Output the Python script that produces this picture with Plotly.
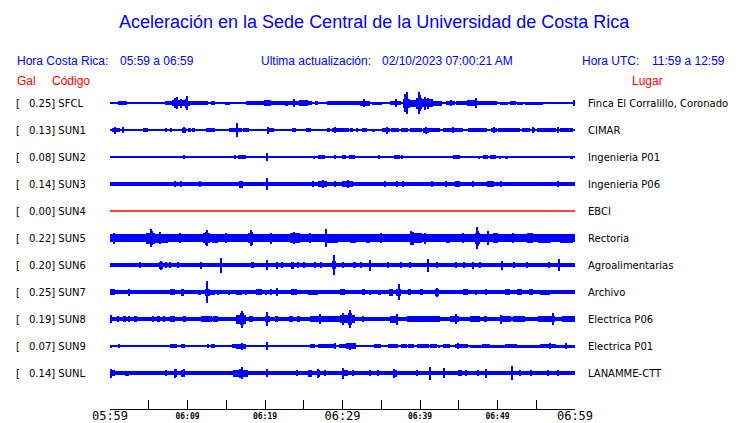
import plotly.graph_objects as go

# ---------------- data ----------------
STATIONS = ["SFCL", "SUN1", "SUN2", "SUN3", "SUN4", "SUN5", "SUN6", "SUN7", "SUN8", "SUN9", "SUNL"]
PEAK_GAL = ["0.25", "0.13", "0.08", "0.14", "0.00", "0.22", "0.20", "0.25", "0.19", "0.07", "0.14"]
PLACES = ["Finca El Corralillo, Coronado", "CIMAR", "Ingenieria P01", "Ingenieria P06", "EBCI",
          "Rectoria", "Agroalimentarias", "Archivo", "Electrica P06", "Electrica P01", "LANAMME-CTT"]

# tick labels (minutes after 05:59 local)
MAJOR_TICKS = [0, 30, 60]
MAJOR_LABELS = ["05:59", "06:29", "06:59"]
MINOR_TICKS = [10, 20, 40, 50]
MINOR_LABELS = ["06:09", "06:19", "06:39", "06:49"]

# background noise half-amplitude of each trace (relative units, 27 = one row)
NOISE = [0.6, 0.6, 0.6, 2.0, 0.0, 3.6, 2.0, 2.0, 2.3, 0.8, 2.2]

# bursts: (start minute, end minute, half amplitude); start == end -> single spike
EV_SFCL = [(1.0, 2.2, 1.7), (2.7, 4.3, 1.3), (4.5, 5.5, 1.3), (5.9, 6.1, 1.3), (7.1, 8.0, 2), (8.0, 8.6, 3),
           (8.4, 8.4, 5), (8.6, 8.8, 5.7), (8.8, 9.7, 3), (9.2, 9.2, 4.5), (9.7, 10.0, 4.5), (9.9, 9.9, 6.7),
           (10.0, 10.3, 2.5), (10.3, 12.7, 2), (13.0, 13.5, 1.7),
           (14.4, 14.7, 1.3), (14.9, 15.5, 1.5), (15.8, 16.0, 1.3), (16.6, 16.8, 1.3), (17.6, 22.8, 1.8),
           (19.9, 20.8, 2.7), (22.6, 23.0, 2.5), (22.8, 26.0, 1.8), (23.7, 23.7, 4), (24.4, 25.5, 2.7),
           (26.4, 26.9, 1.7), (28.0, 30.3, 2), (30.3, 32.3, 1.7), (32.3, 33.5, 2.5), (32.8, 32.8, 4),
           (33.8, 35.1, 1.5), (35.2, 35.7, 1.3), (36.1, 37.6, 2), (36.9, 36.9, 4), (37.8, 38.7, 4.5),
           (38.0, 38.5, 7), (38.3, 38.3, 11), (38.1, 38.1, 9), (38.7, 39.5, 3.5), (39.5, 40.3, 5.5),
           (39.7, 40.1, 8), (39.9, 39.9, 11), (40.3, 41.7, 4), (40.6, 40.6, 6.5), (41.0, 41.0, 5.5),
           (41.7, 42.8, 2.5), (43.4, 44.5, 1.7), (44.0, 44.0, 3), (44.7, 46.0, 2), (46.0, 47.3, 2.7),
           (47.2, 47.2, 5), (47.3, 49.9, 2), (50.3, 51.4, 1.5), (51.6, 52.4, 2), (52.5, 53.3, 1.5),
           (53.5, 55.9, 1.5), (56.8, 57.2, 1.3), (59.9, 59.9, 3)]
EV_SUN1 = [(0.2, 1.3, 2), (0.6, 0.6, 3.5), (1.7, 1.7, 3), (2.3, 2.6, 1.3), (3.3, 3.3, 1.3), (3.5, 3.5, 1.3),
           (4.2, 4.9, 2), (6.0, 6.0, 1.3), (7.1, 7.3, 1.7), (7.8, 8.0, 1.7), (9.3, 9.8, 2.5), (9.6, 9.6, 3),
           (10.1, 10.4, 2), (10.6, 11.0, 2), (11.8, 11.8, 1.3), (12.4, 13.6, 2), (13.9, 13.9, 1.3),
           (15.3, 16.2, 2.3), (16.2, 16.5, 3.5), (16.35, 16.35, 6.7), (16.5, 17.0, 2), (17.2, 17.9, 2),
           (18.9, 18.9, 1.3), (19.4, 19.4, 1.3), (20.2, 20.5, 2.5), (20.35, 20.35, 3.5), (20.5, 21.1, 2),
           (21.5, 21.5, 1.3), (21.9, 21.9, 1.3),
           (23.5, 24.0, 2), (24.9, 24.9, 1.3), (25.3, 25.9, 2), (26.9, 26.9, 1.3), (27.3, 27.7, 1.3),
           (28.0, 28.4, 2), (28.6, 29.4, 2), (29.0, 29.0, 3), (29.4, 30.8, 2), (31.0, 31.3, 1.7),
           (31.8, 32.0, 1.7), (32.5, 33.2, 2), (33.8, 34.2, 1.5), (35.1, 36.1, 2.3), (35.7, 35.7, 3.5),
           (36.3, 37.3, 2), (37.6, 38.5, 2), (38.7, 40.2, 2), (40.4, 41.1, 2.5), (40.8, 40.8, 3.5),
           (41.1, 42.6, 2), (43.0, 45.6, 2), (44.3, 44.3, 3), (46.2, 48.6, 2), (49.2, 49.9, 2.3),
           (49.5, 49.5, 3), (50.1, 52.9, 2), (53.1, 54.2, 2), (54.4, 54.8, 2), (54.6, 54.6, 3),
           (55.1, 57.6, 2), (57.8, 57.8, 3), (58.1, 59.8, 2)]
EV_SUN2 = [(7.7, 7.7, 1.3), (8.9, 8.9, 1.3), (9.5, 9.5, 1.7), (13.8, 13.8, 1.3), (16.0, 16.3, 1.7),
           (16.5, 17.5, 2), (19.9, 19.9, 1.3), (20.3, 20.3, 4), (26.2, 26.4, 1.5), (26.8, 27.7, 2),
           (28.1, 28.1, 1.3), (28.9, 29.2, 1.7), (29.9, 30.5, 2), (30.8, 31.6, 2), (34.6, 34.8, 1.7),
           (35.5, 35.5, 1.3), (36.6, 37.4, 2), (37.6, 37.8, 1.7), (38.2, 38.2, 1.3), (39.5, 39.5, 1.3),
           (40.2, 40.2, 1.3), (43.0, 43.0, 1.3), (43.5, 43.5, 1.3), (44.3, 45.2, 2), (46.9, 46.9, 1.3),
           (47.5, 47.7, 1.5), (48.1, 48.8, 2), (49.0, 49.8, 2), (50.2, 50.5, 1.5), (51.0, 51.3, 1.5),
           (52.0, 52.0, 1.3), (53.1, 53.1, 1.3), (55.4, 55.4, 1.3), (56.3, 56.3, 1.3), (57.8, 57.8, 1.3),
           (59.4, 59.8, 1.5)]
EV_SUN3 = [(8.4, 8.4, 2.7), (9.2, 9.2, 2.7), (11.6, 11.6, 2.7), (16.6, 17.1, 3.5), (20.3, 20.3, 6.3),
           (26.2, 26.2, 2.7), (26.9, 28.0, 3), (27.5, 27.5, 3.7), (29.1, 29.1, 3), (29.9, 31.4, 3),
           (30.7, 30.7, 3.7), (35.5, 35.5, 2.7), (37.0, 37.0, 3), (37.8, 37.8, 2.7), (41.5, 41.5, 3),
           (43.4, 43.4, 2.7), (44.5, 45.2, 3), (46.7, 47.0, 3), (48.6, 49.5, 2.7), (50.5, 50.5, 2.7),
           (57.8, 57.8, 2.7)]
EV_SUN4 = []
EV_SUN5 = [(0.0, 2.0, 4.3), (0.5, 0.5, 5.5), (4.7, 5.8, 5.5), (5.1, 5.6, 7), (5.3, 5.3, 9), (5.8, 7.5, 4.5),
           (6.4, 6.4, 6), (9.0, 9.0, 5), (12.0, 12.9, 5), (12.3, 12.7, 6.5),
           (12.5, 12.5, 8), (13.2, 13.9, 4.5), (15.0, 15.0, 5), (17.8, 18.5, 5), (18.0, 18.4, 6.5),
           (18.2, 18.2, 7.7), (20.8, 20.8, 5.5), (23.2, 24.5, 4.7), (23.8, 23.8, 6), (25.8, 25.8, 5),
           (27.8, 29.4, 4.5), (27.9, 27.9, 8.7), (31.0, 31.8, 4.5), (33.0, 33.6, 4.5), (35.0, 35.0, 5),
           (38.7, 40.2, 5), (38.8, 39.2, 6.5), (38.9, 38.9, 7), (40.6, 40.6, 5.5), (43.4, 43.9, 4.5),
           (45.5, 45.5, 5), (47.1, 47.7, 5.5), (47.3, 47.6, 7.5), (47.4, 47.4, 10.7), (48.8, 48.8, 7),
           (49.4, 50.1, 4.7), (52.0, 52.0, 5), (53.8, 54.6, 4.7), (55.2, 56.9, 4.5), (58.1, 59.8, 4.5)]
EV_SUN6 = [(3.9, 3.9, 3), (6.3, 6.9, 3.5), (6.6, 6.6, 4.5), (7.2, 7.2, 3), (7.7, 7.7, 3), (8.8, 8.8, 3),
           (11.6, 11.9, 3.5), (14.2, 14.5, 4), (14.35, 14.35, 7.5), (18.2, 18.6, 3), (20.3, 20.3, 5),
           (21.4, 21.7, 3.5), (22.2, 22.2, 3), (23.4, 23.7, 3.5), (24.3, 24.3, 3), (25.1, 25.1, 3),
           (26.5, 26.5, 3), (27.2, 27.2, 3), (28.7, 29.2, 4), (28.9, 28.9, 10), (30.1, 30.1, 3),
           (31.4, 31.7, 3), (32.4, 32.4, 3), (33.5, 33.5, 5.5), (35.7, 36.0, 3), (37.6, 37.6, 3),
           (38.7, 38.7, 3), (41.1, 41.1, 6.5), (42.2, 42.2, 3), (44.6, 44.6, 3), (45.7, 45.7, 3),
           (46.8, 46.8, 3.5), (47.7, 47.7, 3), (50.6, 50.6, 4.5), (52.1, 52.1, 3), (53.8, 53.8, 3),
           (56.7, 56.7, 3), (58.0, 58.0, 6)]
EV_SUN7 = [(0.0, 0.6, 3), (2.4, 2.4, 3.5), (7.7, 8.4, 3), (9.2, 9.6, 3.5), (11.4, 11.8, 2.5), (12.2, 12.9, 3.5),
           (12.4, 12.7, 5.5), (12.55, 12.55, 11), (12.9, 13.6, 2.5), (14.0, 14.0, 2.5), (15.4, 15.4, 2.5),
           (16.3, 17.0, 2.5), (17.6, 17.6, 2.5), (18.9, 19.6, 2.7), (20.1, 20.1, 2.5), (20.6, 20.9, 3),
           (21.6, 21.6, 4), (23.4, 24.1, 3), (25.6, 26.9, 2.5), (29.7, 30.3, 3), (32.5, 32.9, 3),
           (33.5, 33.5, 2.5), (34.6, 35.0, 2.5), (36.0, 36.5, 3.5), (36.9, 37.6, 3.5), (37.3, 37.3, 8),
           (38.5, 38.9, 3), (40.0, 40.4, 3), (41.9, 42.5, 3.5), (42.2, 42.2, 4.5), (45.6, 46.2, 3),
           (47.3, 47.3, 2.5), (48.5, 48.5, 3), (51.0, 51.6, 3), (52.5, 53.1, 3), (54.0, 54.6, 3),
           (55.5, 56.8, 2.5)]
EV_SUN8 = [(0.1, 0.1, 4), (0.9, 1.2, 3), (1.7, 2.0, 3), (2.5, 2.5, 3), (3.1, 3.5, 3), (5.4, 5.7, 3),
           (6.1, 6.4, 3), (6.9, 7.1, 3), (7.7, 8.4, 3), (9.4, 9.8, 2.7), (11.8, 13.1, 3), (13.3, 13.9, 3),
           (16.3, 17.6, 4.5), (16.8, 17.3, 6), (17.1, 17.1, 8.5), (17.9, 18.4, 3), (20.0, 20.6, 3),
           (20.3, 20.3, 7), (21.3, 21.7, 3), (23.1, 23.6, 3), (24.1, 24.5, 3), (25.8, 27.7, 3),
           (27.1, 27.1, 5), (27.7, 29.7, 3), (30.1, 30.1, 6), (29.7, 31.6, 4), (30.7, 31.2, 6),
           (31.0, 31.0, 9), (32.7, 32.7, 3), (36.1, 37.2, 3.5), (37.0, 37.0, 5.5), (38.3, 42.6, 2.8),
           (43.9, 45.0, 3.2), (44.7, 44.7, 5), (46.5, 47.7, 3), (48.2, 48.6, 3.2), (50.3, 51.8, 3.2),
           (50.4, 50.4, 4.5), (52.0, 53.6, 3), (55.2, 57.4, 3.2), (57.2, 57.2, 6), (58.3, 60.0, 3)]
EV_SUN9 = [(0.0, 0.3, 1.5), (1.1, 1.3, 2), (2.8, 2.8, 1.3), (3.9, 3.9, 1.3), (7.7, 8.6, 2), (9.2, 9.7, 2),
           (12.6, 12.8, 2), (13.0, 13.5, 2), (15.7, 16.3, 2), (16.3, 17.6, 2.5), (17.1, 17.1, 3.5),
           (18.3, 18.3, 1.3), (20.3, 20.3, 4), (25.8, 26.5, 2), (26.9, 29.2, 2.3), (29.0, 29.0, 3),
           (29.5, 30.5, 2.3), (30.5, 31.8, 3), (31.0, 31.0, 3.5), (34.0, 35.0, 2), (35.9, 37.2, 2),
           (37.6, 38.3, 2), (38.5, 39.2, 2), (39.6, 41.1, 2), (41.3, 42.2, 2), (42.5, 42.5, 1.5),
           (43.0, 43.9, 2), (44.5, 46.2, 2), (44.9, 44.9, 2.7), (46.5, 60.0, 1.5), (48.0, 49.0, 2),
           (51.0, 52.5, 2), (55.5, 57.5, 2), (56.8, 56.8, 3), (58.8, 58.8, 2.7)]
EV_SUNL = [(0.0, 0.6, 3), (0.1, 0.1, 4.5), (1.9, 2.4, 2.5), (7.2, 7.4, 3), (8.2, 8.6, 4), (8.4, 8.4, 4.5),
           (9.2, 9.7, 3.5), (9.5, 9.5, 4), (15.9, 17.8, 3.5), (16.6, 17.2, 4.5), (17.0, 17.0, 6),
           (20.3, 20.3, 4), (24.2, 24.2, 3), (25.6, 26.0, 3.5), (26.7, 27.1, 3.5), (26.9, 26.9, 4.5),
           (27.7, 27.7, 3), (30.1, 30.1, 5.5), (30.1, 30.7, 3.2), (31.4, 31.4, 3), (33.5, 33.5, 3),
           (34.6, 34.6, 3), (36.5, 37.0, 3.5), (36.7, 36.7, 4.5), (39.6, 39.6, 3), (41.3, 41.3, 6.5),
           (43.1, 43.1, 5), (44.9, 45.4, 3.2), (46.0, 46.0, 3), (47.3, 47.6, 3.2), (48.5, 48.5, 4.5),
           (51.9, 51.9, 7), (52.9, 52.9, 3), (54.2, 54.5, 3.2), (56.5, 56.5, 3), (57.8, 57.8, 3)]
EVENTS = [EV_SFCL, EV_SUN1, EV_SUN2, EV_SUN3, EV_SUN4, EV_SUN5, EV_SUN6, EV_SUN7, EV_SUN8, EV_SUN9, EV_SUNL]

# ---------------- styling / layout constants ----------------
W, H = 740, 423
L, R, T, B = 110, 165, 88, 14
PW, PH = W - L - R, H - T - B
ROW_UNIT = 27.0          # relative amplitude units per row
SPIKE_W = 0.15           # minutes
BLUE = "#0000ff"
RED = "#ff0000"
Y_TOP, Y_BOT = 15 / 27.0, -10 - 36 / 27.0


def px_x(px):
    return (px - L) / PW


def px_y(py):
    return (H - B - py) / PH


fig = go.Figure()

for i, name in enumerate(STATIONS):
    row = -i
    if NOISE[i] > 0:
        fig.add_trace(go.Bar(x=[30], y=[2 * NOISE[i] / ROW_UNIT], base=[row - NOISE[i] / ROW_UNIT],
                             width=[60], marker=dict(color=BLUE, line=dict(width=0)),
                             showlegend=False, hoverinfo="skip"))
    else:
        fig.add_trace(go.Scatter(x=[0, 60], y=[row, row], mode="lines",
                                 line=dict(color=RED, width=1.3), showlegend=False, hoverinfo="skip"))
    ev = EVENTS[i]
    if ev:
        xs = [(s + e) / 2 for s, e, a in ev]
        ws = [max(e - s, SPIKE_W) for s, e, a in ev]
        hs = [2 * a / ROW_UNIT for s, e, a in ev]
        bs = [row - a / ROW_UNIT for s, e, a in ev]
        fig.add_trace(go.Bar(x=xs, y=hs, base=bs, width=ws,
                             marker=dict(color=BLUE, line=dict(width=0)),
                             showlegend=False, hoverinfo="skip"))

# invisible trace to hold the secondary tick axis
fig.add_trace(go.Scatter(x=[0], y=[0], xaxis="x2", mode="markers",
                         marker=dict(opacity=0), showlegend=False, hoverinfo="skip"))

annotations = []
lab_font = dict(family="DejaVu Sans", size=10, color="black")
for i, name in enumerate(STATIONS):
    annotations.append(dict(x=px_x(14), y=-i, xref="paper", yref="y", text="[", showarrow=False,
                            xanchor="left", yanchor="middle", font=lab_font))
    annotations.append(dict(x=px_x(26.7), y=-i, xref="paper", yref="y", text=f"{PEAK_GAL[i]}] {name}",
                            showarrow=False, xanchor="left", yanchor="middle", font=lab_font))
    annotations.append(dict(x=px_x(586), y=-i, xref="paper", yref="y", text=PLACES[i], showarrow=False,
                            xanchor="left", yanchor="middle", font=lab_font))

hdr_font = dict(family="Liberation Sans", size=12, color=BLUE)
red_font = dict(family="Liberation Sans", size=12, color=RED)
header = [
    (14.6, 61.3, "Hora Costa Rica:", hdr_font),
    (118, 61.3, "05:59 a 06:59", hdr_font),
    (259, 61.3, "Ultima actualización:", hdr_font),
    (379.6, 61.3, "02/10/2023 07:00:21 AM", hdr_font),
    (579.7, 61.3, "Hora UTC:", hdr_font),
    (649.7, 61.3, "11:59 a 12:59", hdr_font),
    (14.6, 80.7, "Gal", red_font),
    (49.5, 80.7, "Código", red_font),
    (629.7, 80.7, "Lugar", red_font),
]
for px, py, txt, f in header:
    annotations.append(dict(x=px_x(px), y=px_y(py), xref="paper", yref="paper", text=txt, showarrow=False,
                            xanchor="left", yanchor="middle", font=f))
annotations.append(dict(x=px_x(374.5), y=px_y(22), xref="paper", yref="paper",
                        text="Aceleración en la Sede Central de la Universidad de Costa Rica",
                        showarrow=False, xanchor="center", yanchor="middle",
                        font=dict(family="Liberation Sans", size=18, color=BLUE)))

fig.update_layout(
    width=W, height=H,
    margin=dict(l=L, r=R, t=T, b=B, pad=0),
    paper_bgcolor="white", plot_bgcolor="white",
    barmode="overlay", bargap=0,
    showlegend=False,
    annotations=annotations,
    xaxis=dict(range=[0, 60], showgrid=False, zeroline=False, showline=True, linecolor="black",
               linewidth=1, ticks="inside", ticklen=9, tickcolor="black", tickwidth=1,
               tickvals=MAJOR_TICKS, ticktext=MAJOR_LABELS, automargin=False, ticklabelstandoff=-4,
               tickfont=dict(family="DejaVu Sans Mono", size=12, color="black"),
               minor=dict(tickmode="linear", tick0=0, dtick=5, ticks="inside", ticklen=9,
                          tickcolor="black", tickwidth=1, showgrid=False),
               fixedrange=True),
    xaxis2=dict(range=[0, 60], overlaying="x", anchor="y", side="bottom", showgrid=False,
                zeroline=False, showline=False, ticks="", tickvals=MINOR_TICKS, ticktext=MINOR_LABELS,
                automargin=False, ticklabelstandoff=1,
                tickfont=dict(family="DejaVu Sans Mono", size=8, color="black", weight="bold")),
    yaxis=dict(range=[Y_BOT, Y_TOP], visible=False, showgrid=False, zeroline=False, fixedrange=True),
)

fig.write_html("out.html", config={"displayModeBar": False},
               post_script="document.body.style.margin='0';document.body.style.overflow='hidden';")
